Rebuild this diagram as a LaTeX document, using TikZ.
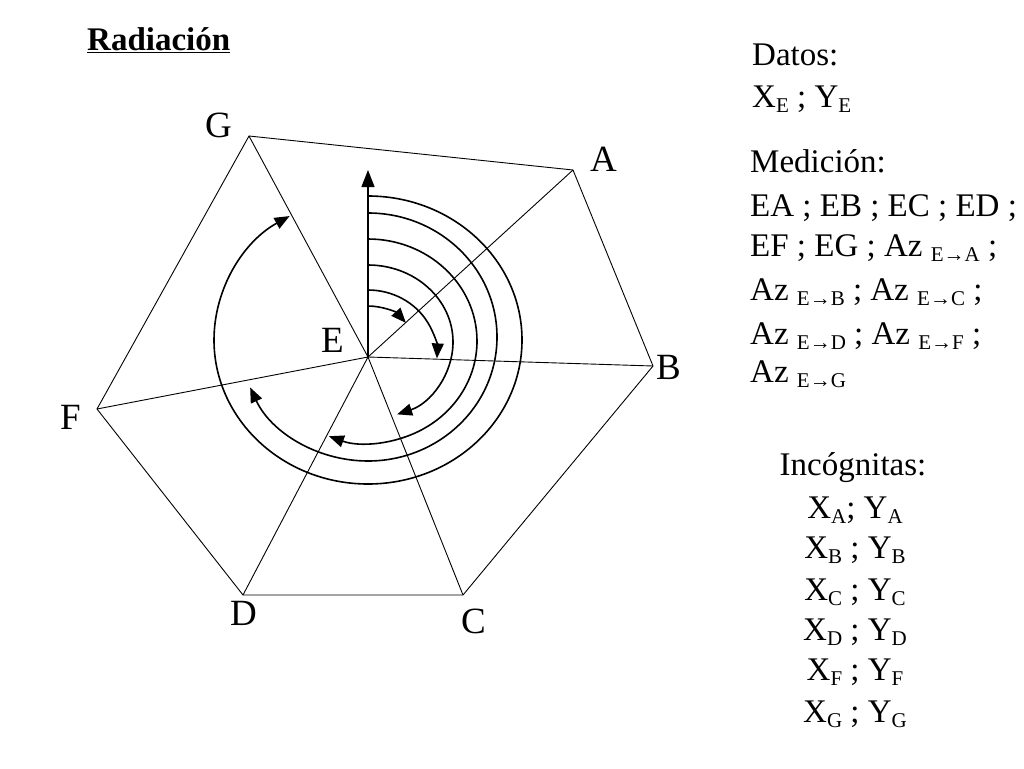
\documentclass[tikz,border=0pt]{standalone}
\usepackage{fontspec}
\setmainfont{Liberation Serif}
\usetikzlibrary{arrows.meta}
\newcommand{\sbx}[1]{\raisebox{-5pt}{\fontsize{21}{21}\selectfont #1}}
\begin{document}
\begin{tikzpicture}[x=1pt,y=-1pt,
  ln/.style={line width=0.9pt},
  arc/.style={line width=1.6pt,-{Triangle[length=15pt,width=12pt]}},
  lbl/.style={font=\fontsize{33}{33}\selectfont,inner sep=0pt,anchor=base west},
  plbl/.style={font=\fontsize{37}{37}\selectfont,inner sep=0pt,anchor=base west},
  lblc/.style={font=\fontsize{33}{33}\selectfont,inner sep=0pt,anchor=base}]
\useasboundingbox (0,0) rectangle (1024,768);
\coordinate (E) at (368,357);
\coordinate (A) at (573,170);
\coordinate (B) at (653,366);
\coordinate (C) at (463,595);
\coordinate (D) at (243,595);
\coordinate (F) at (97,409);
\coordinate (G) at (249,136);
\coordinate (N) at (368,170);
\draw[ln] (A)--(B)--(C)--(D)--(F)--(G)--cycle;
\foreach \p in {A,B,C,D,F,G} \draw[ln] (E)--(\p);
\draw[line width=1.4pt,-{Triangle[length=17pt,width=13pt]}] (E)--(N);
\draw[arc] (368,306) arc[start angle=-90,end angle=-42,x radius=51,y radius=51];
\draw[arc] (368,290) arc[start angle=-90,end angle=3,x radius=69,y radius=65];
\draw[arc] (368,265) arc[start angle=-90,end angle=70,x radius=85,y radius=77];
\draw[arc] (368,239) arc[start angle=-90,end angle=111,x radius=109,y radius=102];
\draw[arc] (368,213) arc[start angle=-90,end angle=156,x radius=129,y radius=124];
\draw[arc] (368,196) arc[start angle=-90,end angle=239.4,x radius=154,y radius=144];
\node[plbl] (lG) at (205,137) {G};
\node[plbl] (lA) at (590,171) {A};
\node[plbl] (lB) at (656,379) {B};
\node[plbl] (lC) at (461,633) {C};
\node[plbl] (lD) at (230,625) {D};
\node[plbl] (lF) at (60,429) {F};
\node[plbl] (lE) at (321,352) {E};
\node[lbl,font=\bfseries\fontsize{33}{33}\selectfont] (t) at (87,50) {\underline{Radiación}};
\node[lbl] (d1) at (752,65) {Datos:};
\node[lbl] (d2) at (752,107) {X\sbx{E} ; Y\sbx{E}};
\node[lbl] (m1) at (750,172) {Medición:};
\node[lbl] (m2) at (750,216) {EA ; EB ; EC ; ED ;};
\node[lbl] (m3) at (750,256) {EF ; EG ; Az \sbx{E→A} ;};
\node[lbl] (m4) at (750,300) {Az \sbx{E→B} ; Az \sbx{E→C} ;};
\node[lbl] (m5) at (750,344) {Az \sbx{E→D} ; Az \sbx{E→F} ;};
\node[lbl] (m6) at (750,382) {Az \sbx{E→G}};
\node[lblc] (i0) at (853,475) {Incógnitas:};
\node[lblc] (i1) at (855,518) {X\sbx{A}; Y\sbx{A}};
\node[lblc] (i2) at (855,558) {X\sbx{B} ; Y\sbx{B}};
\node[lblc] (i3) at (855,600) {X\sbx{C} ; Y\sbx{C}};
\node[lblc] (i4) at (855,640) {X\sbx{D} ; Y\sbx{D}};
\node[lblc] (i5) at (855,680) {X\sbx{F} ; Y\sbx{F}};
\node[lblc] (i6) at (855,722) {X\sbx{G} ; Y\sbx{G}};
\end{tikzpicture}
\end{document}
